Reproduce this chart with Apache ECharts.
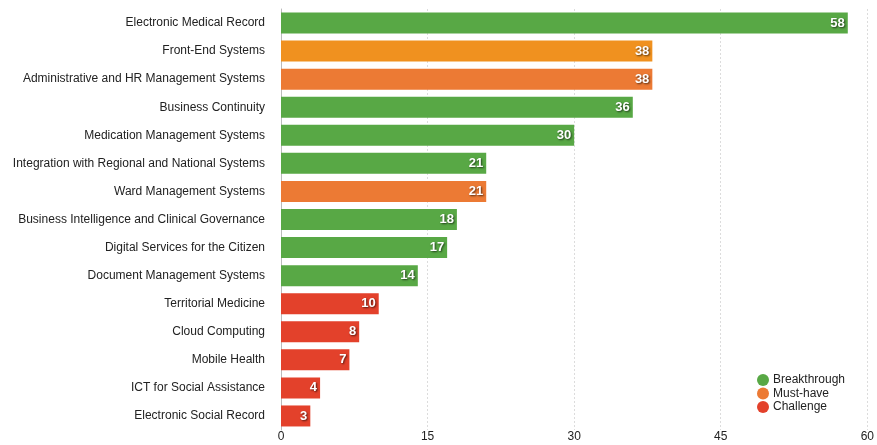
<!DOCTYPE html>
<html>
<head>
<meta charset="utf-8">
<script src="https://cdn.jsdelivr.net/npm/echarts@6/dist/echarts.min.js"></script>
<style>
  html, body { margin: 0; padding: 0; background: #fff; }
  #chart { width: 877px; height: 445px; }
</style>
</head>
<body>
<div id="chart"></div>
<script>
// Project areas, their counts and the group each belongs to
const categories = [
  'Electronic Medical Record',
  'Front-End Systems',
  'Administrative and HR Management Systems',
  'Business Continuity',
  'Medication Management Systems',
  'Integration with Regional and National Systems',
  'Ward Management Systems',
  'Business Intelligence and Clinical Governance',
  'Digital Services for the Citizen',
  'Document Management Systems',
  'Territorial Medicine',
  'Cloud Computing',
  'Mobile Health',
  'ICT for Social Assistance',
  'Electronic Social Record'
];
const values = [58, 38, 38, 36, 30, 21, 21, 18, 17, 14, 10, 8, 7, 4, 3];
const groups = [
  'Breakthrough', 'Must-have', 'Must-have', 'Breakthrough', 'Breakthrough',
  'Breakthrough', 'Must-have', 'Breakthrough', 'Breakthrough', 'Breakthrough',
  'Challenge', 'Challenge', 'Challenge', 'Challenge', 'Challenge'
];
const groupNames = ['Breakthrough', 'Must-have', 'Challenge'];
const xTicks = [0, 15, 30, 45, 60];

const groupColors = {
  'Breakthrough': '#58a845',
  'Must-have': '#ec7a34',
  'Challenge': '#e3412b'
};
// Front-End Systems is drawn in a lighter orange
const itemColorOverride = { 'Front-End Systems': '#f0911f' };

const series = groupNames.map(function (g) {
  return {
    name: g,
    type: 'bar',
    barWidth: 21,
    barGap: '-100%',
    itemStyle: { color: groupColors[g] },
    label: {
      show: true,
      position: 'insideRight',
      distance: 3,
      color: '#fff',
      fontFamily: 'Liberation Sans, Arial, sans-serif',
      fontSize: 13,
      fontWeight: 'bold',
      textShadowColor: 'rgba(0,0,0,0.65)',
      textShadowBlur: 2,
      textShadowOffsetX: 1,
      textShadowOffsetY: 1
    },
    data: categories.map(function (c, i) {
      if (groups[i] !== g) return null;
      const d = { value: values[i] };
      if (itemColorOverride[c]) d.itemStyle = { color: itemColorOverride[c] };
      return d;
    })
  };
});

const chart = echarts.init(document.getElementById('chart'), null, { renderer: 'canvas' });
chart.setOption({
  animation: false,
  backgroundColor: '#fff',
  textStyle: { fontFamily: 'Liberation Sans, Arial, sans-serif' },
  grid: { left: 281, right: 8, top: 9, bottom: 15, containLabel: false },
  legend: {
    data: groupNames,
    orient: 'vertical',
    left: 752,
    top: 369,
    icon: 'circle',
    itemWidth: 12,
    itemHeight: 12,
    itemGap: 1.5,
    textStyle: { fontSize: 12, color: '#222', padding: [0, 0, 0, -1] }
  },
  xAxis: {
    type: 'value',
    min: xTicks[0],
    max: xTicks[xTicks.length - 1],
    interval: 15,
    axisLine: { show: false },
    axisTick: { show: false },
    axisLabel: { color: '#222', fontSize: 12, margin: 1 },
    splitLine: { lineStyle: { color: '#dcdcdc', type: [2, 2] } }
  },
  yAxis: {
    type: 'category',
    data: categories,
    inverse: true,
    axisLine: { lineStyle: { color: '#bbb' } },
    axisTick: { show: false },
    axisLabel: { color: '#222', fontSize: 12, margin: 16 }
  },
  series: series
});
</script>
</body>
</html>
